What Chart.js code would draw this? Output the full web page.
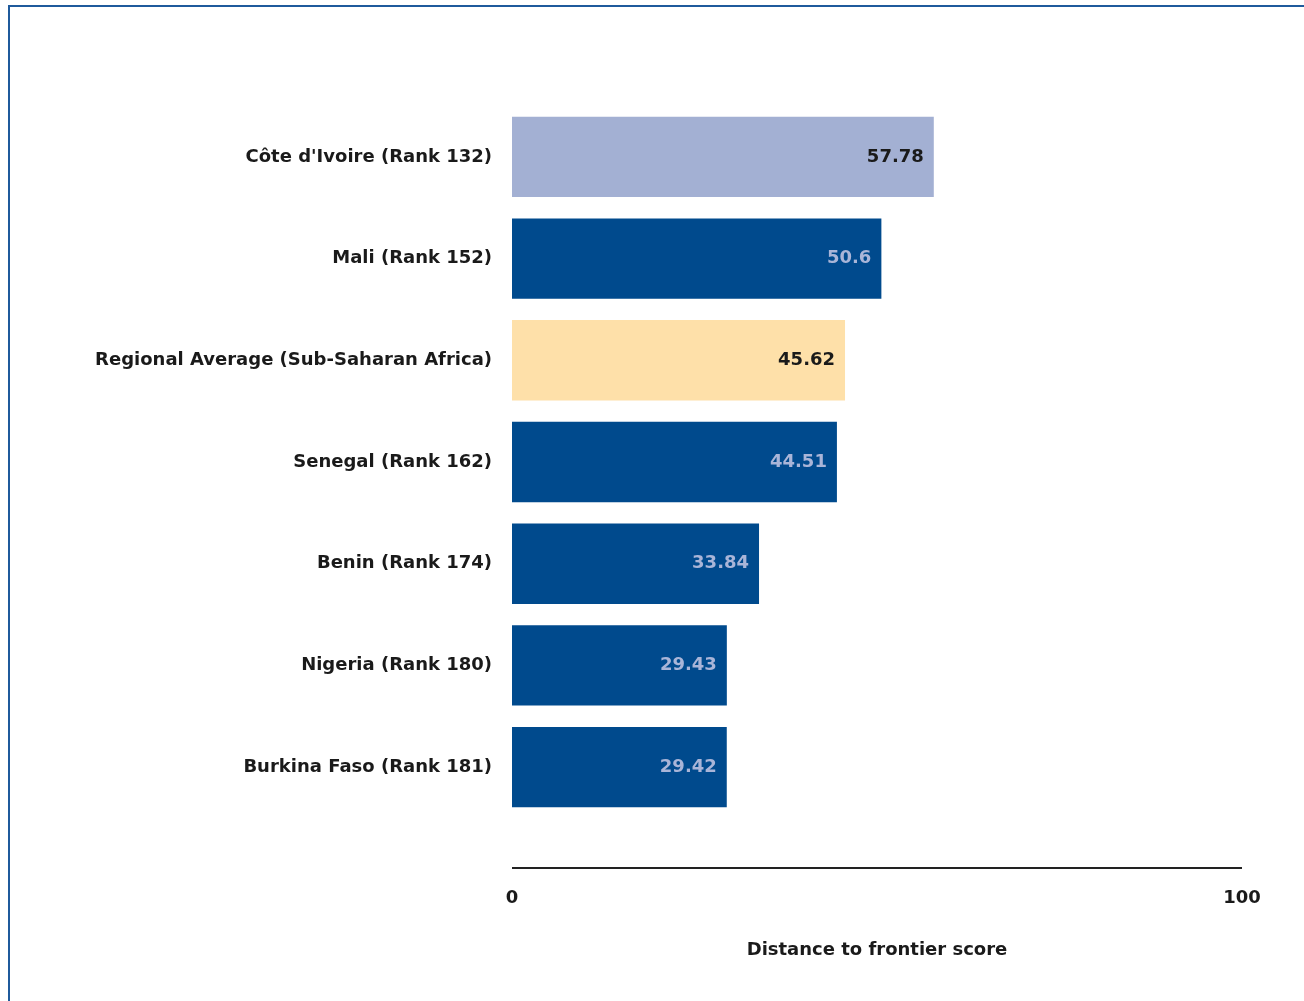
<!DOCTYPE html>
<html>
<head>
<meta charset="utf-8">
<script src="https://cdn.jsdelivr.net/npm/chart.js@4/dist/chart.umd.min.js"></script>
<style>
  html, body { margin: 0; padding: 0; background: #fff; }
  #wrap { position: relative; width: 1304px; height: 1001px; overflow: hidden; }
  #frame { position: absolute; left: 8px; top: 5px; right: -10px; bottom: -10px; border-left: 2px solid #1f5a9c; border-top: 2px solid #1f5a9c; }
  canvas { position: absolute; left: 0; top: 0; }
</style>
</head>
<body>
<div id="wrap">
  <div id="frame"></div>
  <canvas id="c" width="1304" height="1001"></canvas>
</div>
<script>
const categories = [
  "Côte d'Ivoire (Rank 132)",
  "Mali (Rank 152)",
  "Regional Average (Sub-Saharan Africa)",
  "Senegal (Rank 162)",
  "Benin (Rank 174)",
  "Nigeria (Rank 180)",
  "Burkina Faso (Rank 181)"
];
const scores = [57.78, 50.6, 45.62, 44.51, 33.84, 29.43, 29.42];
const scoreLabels = ["57.78", "50.6", "45.62", "44.51", "33.84", "29.43", "29.42"];
const barColors = ["#a3b0d3", "#004a8d", "#fee0a9", "#004a8d", "#004a8d", "#004a8d", "#004a8d"];
const labelColors = ["#1a1a1a", "#a9b5d8", "#1a1a1a", "#a9b5d8", "#a9b5d8", "#a9b5d8", "#a9b5d8"];
const xTicks = [0, 100];
const xTitle = "Distance to frontier score";

const FONT = "'DejaVu Sans', sans-serif";
const SIZE = 18;

const valueLabels = {
  id: 'valueLabels',
  afterDatasetsDraw(chart) {
    const ctx = chart.ctx;
    const meta = chart.getDatasetMeta(0);
    ctx.save();
    ctx.font = "bold " + SIZE + "px " + FONT;
    ctx.textAlign = 'right';
    ctx.textBaseline = 'middle';
    meta.data.forEach((bar, i) => {
      ctx.fillStyle = labelColors[i];
      ctx.fillText(scoreLabels[i], bar.x - 10, bar.y);
    });
    ctx.restore();
  }
};

const axisLine = {
  id: 'axisLine',
  afterDraw(chart) {
    const ctx = chart.ctx;
    const x = chart.scales.x;
    ctx.save();
    ctx.strokeStyle = '#222';
    ctx.lineWidth = 2;
    ctx.beginPath();
    ctx.moveTo(x.getPixelForValue(0), 868);
    ctx.lineTo(x.getPixelForValue(100), 868);
    ctx.stroke();
    ctx.restore();
  }
};

new Chart(document.getElementById('c'), {
  type: 'bar',
  data: {
    labels: categories,
    datasets: [{
      data: scores,
      backgroundColor: barColors,
      borderWidth: 0,
      categoryPercentage: 1,
      barPercentage: 0.79
    }]
  },
  options: {
    indexAxis: 'y',
    responsive: false,
    animation: false,
    layout: { padding: { top: 106, right: 62, bottom: 0, left: 0 } },
    plugins: { legend: { display: false }, tooltip: { enabled: false } },
    scales: {
      x: {
        min: 0, max: 100,
        afterBuildTicks(scale) { scale.ticks = xTicks.map(v => ({ value: v })); },
        afterFit(scale) { scale.height = 183; },
        grid: { display: false, drawTicks: true, tickLength: 66 },
        border: { display: false },
        ticks: { padding: 4, color: '#1a1a1a', font: { family: FONT, size: SIZE, weight: 'bold' }, maxRotation: 0 },
        title: { display: true, text: xTitle, color: '#1a1a1a', font: { family: FONT, size: SIZE, weight: 'bold' }, padding: { top: 0, bottom: 40 } }
      },
      y: {
        afterFit(scale) { scale.width = 512; },
        grid: { display: false, drawTicks: false },
        border: { display: false },
        ticks: { padding: 20, color: '#1a1a1a', font: { family: FONT, size: SIZE, weight: 'bold' } }
      }
    }
  },
  plugins: [valueLabels, axisLine]
});
</script>
</body>
</html>
